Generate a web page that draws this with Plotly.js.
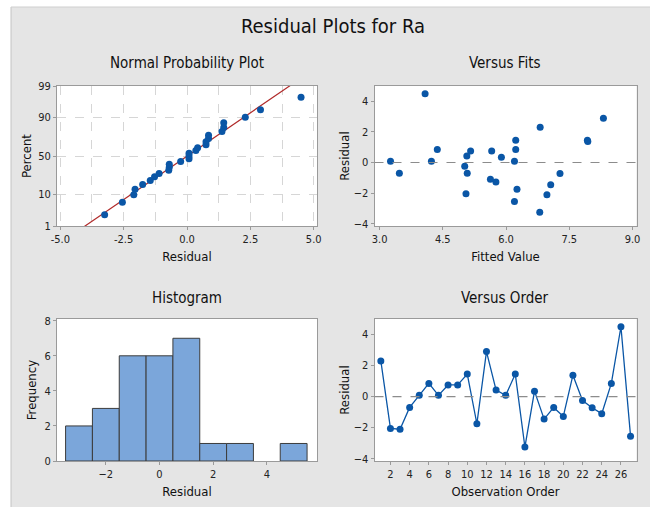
<!DOCTYPE html>
<html>
<head>
<meta charset="utf-8">
<script src="https://cdn.plot.ly/plotly-3.0.1.min.js"></script>
<style>html,body{margin:0;padding:0;background:#fff}#chart{width:650px;height:508px}</style>
</head>
<body>
<div id="chart"></div>
<script>
// ---- data ----
const observation = [1,2,3,4,5,6,7,8,9,10,11,12,13,14,15,16,17,18,19,20,21,22,23,24,25,26,27];
const residuals = [2.3,-2.05,-2.1,-0.7,0.08,0.85,0.08,0.75,0.75,1.45,-1.75,2.9,0.42,0.08,1.45,-3.25,0.35,-1.45,-0.7,-1.28,1.38,-0.25,-0.72,-1.1,0.85,4.5,-2.55];
const fitted = [6.81,5.05,6.97,3.47,3.26,4.37,4.23,5.16,5.66,6.23,6.26,8.31,5.07,6.20,7.93,6.80,5.89,7.06,5.08,5.76,7.94,5.02,7.28,5.63,6.23,4.08,6.20];
const percentTicks = [1,10,50,90,99];
const percentLabels = ["1","10","50","90","99"];
const probXTicks = [-5,-2.5,0,2.5,5];
const probXLabels = ["-5.0","-2.5","0.0","2.5","5.0"];
const fitsXTicks = [3,4.5,6,7.5,9];
const fitsXLabels = ["3.0","4.5","6.0","7.5","9.0"];
const orderXTicks = [2,4,6,8,10,12,14,16,18,20,22,24,26];

// ---- helpers ----
function qnorm(p){
  const a=[-3.969683028665376e+01,2.209460984245205e+02,-2.759285104469687e+02,1.383577518672690e+02,-3.066479806614716e+01,2.506628277459239e+00];
  const b=[-5.447609879822406e+01,1.615858368580409e+02,-1.556989798598866e+02,6.680131188771972e+01,-1.328068155288572e+01];
  const c=[-7.784894002430293e-03,-3.223964580411365e-01,-2.400758277161838e+00,-2.549732539343734e+00,4.374664141464968e+00,2.938163982698783e+00];
  const d=[7.784695709041462e-03,3.224671290700398e-01,2.445134137142996e+00,3.754408661907416e+00];
  const pl=0.02425, ph=1-pl; let q,r;
  if(p<pl){q=Math.sqrt(-2*Math.log(p));return (((((c[0]*q+c[1])*q+c[2])*q+c[3])*q+c[4])*q+c[5])/((((d[0]*q+d[1])*q+d[2])*q+d[3])*q+1);}
  if(p<=ph){q=p-0.5;r=q*q;return (((((a[0]*r+a[1])*r+a[2])*r+a[3])*r+a[4])*r+a[5])*q/(((((b[0]*r+b[1])*r+b[2])*r+b[3])*r+b[4])*r+1);}
  q=Math.sqrt(-2*Math.log(1-p));return -(((((c[0]*q+c[1])*q+c[2])*q+c[3])*q+c[4])*q+c[5])/((((d[0]*q+d[1])*q+d[2])*q+d[3])*q+1);
}
const n = residuals.length;
const sorted = residuals.slice().sort((a,b)=>a-b);
const probZ = sorted.map((v,i)=>qnorm((i+1-0.3)/(n+0.4)));
const mean = residuals.reduce((s,v)=>s+v,0)/n;
const sd = Math.sqrt(residuals.reduce((s,v)=>s+(v-mean)*(v-mean),0)/(n-1));
const lineZ = [-3,3];
const lineX = lineZ.map(z=>mean+sd*z);
const zTicks = percentTicks.map(p=>qnorm(p/100));

// ---- layout geometry ----
const W=650,H=508;
const FONT = '"Liberation Sans Narrow","DejaVu Sans Condensed","Arial Narrow",sans-serif';
const hx=(a,b)=>[a/W,b/W];
const vy=(top,bottom)=>[1-bottom/H,1-top/H];
const BLUE='#0a56a6';
const axisCommon = {showline:true, mirror:true, linecolor:'#9a9a9a', linewidth:1, ticks:'outside', ticklen:3, tickcolor:'#9a9a9a',
  tickfont:{family:FONT,size:11,color:'#222'}, zeroline:false, showgrid:false};
const titleFont = {family:FONT,size:13,color:'#111'};

const traces = [
  {x:lineX, y:lineZ, mode:'lines', line:{color:'#b02a2a',width:1.2}, xaxis:'x', yaxis:'y', hoverinfo:'skip'},
  {x:sorted, y:probZ, mode:'markers', marker:{color:BLUE,size:7}, xaxis:'x', yaxis:'y'},
  {x:fitted, y:residuals, mode:'markers', marker:{color:BLUE,size:7}, xaxis:'x2', yaxis:'y2'},
  {x:residuals, type:'histogram', xbins:{start:-3.5,end:5.5,size:1}, marker:{color:'#7ba6da',line:{color:'#3c3c3c',width:1}}, xaxis:'x3', yaxis:'y3'},
  {x:observation, y:residuals, mode:'lines+markers', line:{color:BLUE,width:1.3}, marker:{color:BLUE,size:7}, xaxis:'x4', yaxis:'y4'}
];

const layout = {
  width:W, height:H, margin:{l:0,r:0,t:0,b:0},
  paper_bgcolor:'#e5e5e5', plot_bgcolor:'#ffffff', showlegend:false, bargap:0,
  font:{family:FONT,color:'#111'},
  title:{text:'Residual Plots for Ra', x:333/W, xanchor:'center', y:1-26/H, yanchor:'middle', font:{family:FONT,size:20,color:'#111'}},
  xaxis:Object.assign({}, axisCommon, {domain:hx(57,317), range:[-5.13,5.13], tickvals:probXTicks, ticktext:probXLabels,
    showgrid:true, gridcolor:'#d6d6d6', griddash:'dash', gridwidth:1,
    minor:{tick0:-5, dtick:1.25, showgrid:true, gridcolor:'#d6d6d6', griddash:'dash', ticks:''},
    title:{text:'Residual', font:titleFont, standoff:6}, anchor:'y'}),
  yaxis:Object.assign({}, axisCommon, {domain:vy(86,226), range:[zTicks[0],zTicks[4]], tickvals:zTicks, ticktext:percentLabels,
    showgrid:true, gridcolor:'#d6d6d6', griddash:'dash', gridwidth:1,
    title:{text:'Percent', font:titleFont, standoff:3}, anchor:'x'}),
  xaxis2:Object.assign({}, axisCommon, {domain:hx(374.5,636.5), range:[2.88,9.095], tickvals:fitsXTicks, ticktext:fitsXLabels,
    title:{text:'Fitted Value', font:titleFont, standoff:6}, anchor:'y2'}),
  yaxis2:Object.assign({}, axisCommon, {domain:vy(86,226), range:[-4.15,5.0], tickvals:[-4,-2,0,2,4],
    title:{text:'Residual', font:titleFont, standoff:1}, anchor:'x2'}),
  xaxis3:Object.assign({}, axisCommon, {domain:hx(57,317), range:[-3.82,5.87], tickvals:[-2,0,2,4],
    title:{text:'Residual', font:titleFont, standoff:6}, anchor:'y3'}),
  yaxis3:Object.assign({}, axisCommon, {domain:vy(319,461), range:[0,8.1], tickvals:[0,2,4,6,8],
    title:{text:'Frequency', font:titleFont, standoff:4}, anchor:'x3'}),
  xaxis4:Object.assign({}, axisCommon, {domain:hx(374.5,636.5), range:[0.34,27.62], tickvals:orderXTicks,
    title:{text:'Observation Order', font:titleFont, standoff:6}, anchor:'y4'}),
  yaxis4:Object.assign({}, axisCommon, {domain:vy(319,461), range:[-4.15,5.0], tickvals:[-4,-2,0,2,4],
    title:{text:'Residual', font:titleFont, standoff:1}, anchor:'x4'}),
  shapes:[
    {type:'rect', xref:'paper', yref:'paper', x0:0, x1:11/W, y0:0, y1:1, fillcolor:'#ffffff', line:{width:0}},
    {type:'rect', xref:'paper', yref:'paper', x0:0, x1:1, y0:1-7/H, y1:1, fillcolor:'#ffffff', line:{width:0}},
    {type:'rect', xref:'paper', yref:'paper', x0:0, x1:1, y0:0, y1:1/H, fillcolor:'#ffffff', line:{width:0}},
    {type:'line', xref:'paper', yref:'paper', x0:11/W, x1:11/W, y0:1/H, y1:1-7/H, line:{color:'#c4c4c4',width:1}},
    {type:'line', xref:'paper', yref:'paper', x0:11/W, x1:1, y0:1-7/H, y1:1-7/H, line:{color:'#cfcfcf',width:1}},
    {type:'line', xref:'x2 domain', yref:'y2', x0:0, x1:1, y0:0, y1:0, line:{color:'#8c8c8c',width:1.2,dash:'dash'}},
    {type:'line', xref:'x4 domain', yref:'y4', x0:0, x1:1, y0:0, y1:0, line:{color:'#8c8c8c',width:1.2,dash:'dash'}}
  ],
  annotations:[
    {text:'Normal Probability Plot', xref:'paper', yref:'paper', x:187/W, y:1-63/H, xanchor:'center', yanchor:'middle', showarrow:false, font:{family:FONT,size:15,color:'#111'}},
    {text:'Versus Fits', xref:'paper', yref:'paper', x:505/W, y:1-63/H, xanchor:'center', yanchor:'middle', showarrow:false, font:{family:FONT,size:15,color:'#111'}},
    {text:'Histogram', xref:'paper', yref:'paper', x:187/W, y:1-298/H, xanchor:'center', yanchor:'middle', showarrow:false, font:{family:FONT,size:15,color:'#111'}},
    {text:'Versus Order', xref:'paper', yref:'paper', x:505/W, y:1-298/H, xanchor:'center', yanchor:'middle', showarrow:false, font:{family:FONT,size:15,color:'#111'}}
  ]
};
Plotly.newPlot('chart', traces, layout, {staticPlot:true, displayModeBar:false});
</script>
</body>
</html>
